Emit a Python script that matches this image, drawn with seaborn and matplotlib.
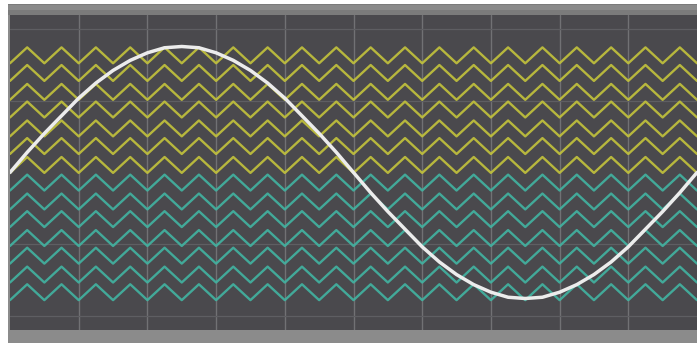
import matplotlib
matplotlib.use("Agg")
import matplotlib.pyplot as plt
from matplotlib.patches import Rectangle
import seaborn as sns
import pandas as pd

# Sampling grid (time axis, 0..10 divisions)
t = [0.0, 0.25, 0.5, 0.75, 1.0, 1.25, 1.5, 1.75, 2.0, 2.25, 2.5, 2.75, 3.0, 3.25,
     3.5, 3.75, 4.0, 4.25, 4.5, 4.75, 5.0, 5.25, 5.5, 5.75, 6.0, 6.25, 6.5, 6.75,
     7.0, 7.25, 7.5, 7.75, 8.0, 8.25, 8.5, 8.75, 9.0, 9.25, 9.5, 9.75, 10.0]

# Reference sine trace (white)
sine = [0.00, 0.16, 0.31, 0.45, 0.59, 0.71, 0.81, 0.89, 0.95, 0.99, 1.00, 0.99,
        0.95, 0.89, 0.81, 0.71, 0.59, 0.45, 0.31, 0.16, 0.00, -0.16, -0.31, -0.45,
        -0.59, -0.71, -0.81, -0.89, -0.95, -0.99, -1.00, -0.99, -0.95, -0.89, -0.81,
        -0.71, -0.59, -0.45, -0.31, -0.16, 0.00]

# Triangle carrier shape (vertex values, trough/peak alternating)
carrier = [-0.063, 0.063, -0.063, 0.063, -0.063, 0.063, -0.063, 0.063, -0.063, 0.063,
           -0.063, 0.063, -0.063, 0.063, -0.063, 0.063, -0.063, 0.063, -0.063, 0.063,
           -0.063, 0.063, -0.063, 0.063, -0.063, 0.063, -0.063, 0.063, -0.063, 0.063,
           -0.063, 0.063, -0.063, 0.063, -0.063, 0.063, -0.063, 0.063, -0.063, 0.063,
           -0.063]

# Carrier levels
yellow_levels = [0.93, 0.79, 0.64, 0.50, 0.35, 0.21, 0.06]
cyan_levels = [-0.08, -0.23, -0.37, -0.52, -0.66, -0.81, -0.95]

x_ticks = [1, 2, 3, 4, 5, 6, 7, 8, 9]
x_tick_labels = ["1.0", "2.0", "3.0", "4.0", "5.0", "6.0", "7.0", "8.0", "9.0"]
y_ticks = [-1.14, -0.57, 0.57, 1.14]

BG = "#4a494d"
YELLOW = "#c4c43c"
CYAN = "#42b4a2"
WHITE = "#ececec"

sns.set_theme(style="dark")
W, H = 697, 343
fig = plt.figure(figsize=(W / 100, H / 100), dpi=100, facecolor="white")

# frame strips above and below the screen
fig.patches.append(Rectangle((8 / W, 1 - 15 / H), 1, 11 / H, transform=fig.transFigure,
                             facecolor="#7b7b7b", edgecolor="none", zorder=0))
fig.patches.append(Rectangle((8 / W, 1 - 10 / H), 1, 5 / H, transform=fig.transFigure,
                             facecolor="#8a8a8a", edgecolor="none", zorder=0))
fig.patches.append(Rectangle((8 / W, 0), 1, 13 / H, transform=fig.transFigure,
                             facecolor="#8b8b8b", edgecolor="none", zorder=0))
fig.patches.append(Rectangle((8 / W, 13 / H), 2 / W, 315 / H, transform=fig.transFigure,
                             facecolor="#8b8b8b", edgecolor="none", zorder=0))

ax = fig.add_axes([10 / W, 13 / H, (W - 10) / W, 315 / H])
ax.set_facecolor(BG)

for lvl in yellow_levels:
    df = pd.DataFrame({"t": t, "v": [lvl + c for c in carrier]})
    sns.lineplot(data=df, x="t", y="v", color=YELLOW, lw=1.7, ax=ax, alpha=0.9)
for lvl in cyan_levels:
    df = pd.DataFrame({"t": t, "v": [lvl + c for c in carrier]})
    sns.lineplot(data=df, x="t", y="v", color=CYAN, lw=1.7, ax=ax, alpha=0.9)

sine_df = pd.DataFrame({"t": t, "v": sine})
sns.lineplot(data=sine_df, x="t", y="v", color=WHITE, lw=2.5, ax=ax)

ax.set_xlim(0, 10)
ax.set_ylim(-1.25, 1.25)
ax.set_xticks(x_ticks)
ax.set_yticks(y_ticks)
ax.grid(True, axis="x", color="#717174", lw=1.0)
ax.grid(True, axis="y", color="#5e5e62", lw=0.9)
ax.set_axisbelow(True)
ax.set_xlabel("")
ax.set_ylabel("")
ax.set_yticklabels([])
ax.set_xticklabels(x_tick_labels, fontsize=5, color="#a4a4a4")
ax.tick_params(axis="x", pad=3, length=0)
ax.tick_params(axis="y", length=0)
for s in ax.spines.values():
    s.set_visible(False)

fig.savefig("out.png", dpi=100, facecolor="white")
